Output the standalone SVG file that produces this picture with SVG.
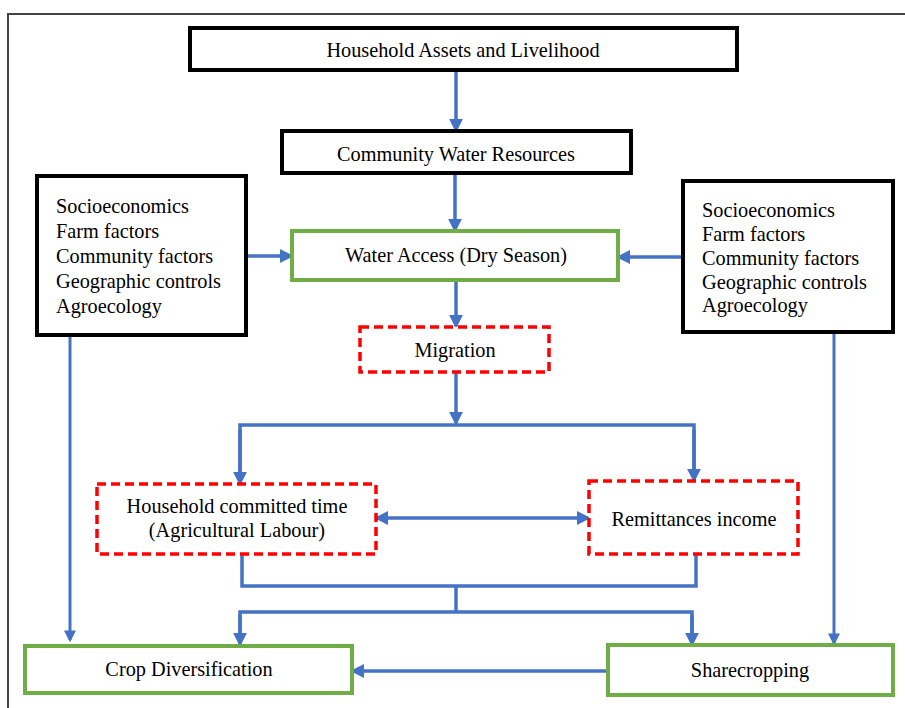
<svg xmlns="http://www.w3.org/2000/svg" width="905" height="708" viewBox="0 0 905 708">
<defs>
<marker id="ah" markerWidth="4" markerHeight="4" refX="3.2" refY="2" orient="auto" markerUnits="strokeWidth" viewBox="0 0 4 4"><path d="M0,0 L4,2 L0,4 Z" fill="#4472C4"/></marker>
<marker id="ahs" markerWidth="4" markerHeight="4" refX="0.8" refY="2" orient="auto" markerUnits="strokeWidth" viewBox="0 0 4 4"><path d="M4,0 L0,2 L4,4 Z" fill="#4472C4"/></marker>
</defs>
<style>
.blk{fill:#fff;stroke:#000;stroke-width:4}
.grn{fill:#fff;stroke:#70AD47;stroke-width:4}
.red{fill:#fff;stroke:#FF0000;stroke-width:3.5;stroke-dasharray:9,5}
text{font-family:"Liberation Serif","Times New Roman",serif;font-size:20.3px;fill:#000}
.c{text-anchor:middle}
.ln{fill:none;stroke:#4472C4;stroke-width:3.5}
.ar{marker-end:url(#ah)}
</style>
<rect width="905" height="708" fill="#fff"/>
<rect x="8" y="14" width="920" height="720" fill="none" stroke="#444" stroke-width="2"/>
<g id="connectors">
<path class="ln ar" d="M456,70 V130"/>
<path class="ln ar" d="M455,173 V230"/>
<path class="ln ar" d="M247,256 H291"/>
<path class="ln ar" d="M683,257 H619"/>
<path class="ln ar" d="M456,281 V326"/>
<path class="ln ar" d="M456,373 V423"/>
<path class="ln" d="M240,484 V425 H694 V481"/>
<path class="ln ar" d="M240,430 V483"/>
<path class="ln ar" d="M694,430 V480"/>
<path class="ln" d="M377,518 H588" style="marker-end:url(#ah);marker-start:url(#ahs)"/>
<path class="ln" d="M242,555 V586 H696 V555"/>
<path class="ln" d="M456,586 V612"/>
<path class="ln" d="M240,640 V612 H692 V640"/>
<path class="ln ar" d="M240,615 V644"/>
<path class="ln ar" d="M692,615 V644"/>
<path class="ln ar" d="M70,337 V640" style="stroke-width:3"/>
<path class="ln ar" d="M834,334 V643" style="stroke-width:3"/>
<path class="ln ar" d="M608,671 H353"/>
</g>
<g id="assets"><rect class="blk" x="190" y="28" width="547" height="42"/><text class="c" x="463" y="57">Household Assets and Livelihood</text></g>
<g id="community"><rect class="blk" x="282" y="131" width="349" height="42"/><text class="c" x="456" y="161">Community Water Resources</text></g>
<g id="leftfactors"><rect class="blk" x="37" y="176" width="209" height="159"/>
<text x="56" y="213">Socioeconomics</text><text x="56" y="238">Farm factors</text><text x="56" y="263">Community factors</text><text x="56" y="288">Geographic controls</text><text x="56" y="313">Agroecology</text></g>
<g id="rightfactors"><rect class="blk" x="683" y="181" width="210" height="151"/>
<text x="702" y="217">Socioeconomics</text><text x="702" y="241">Farm factors</text><text x="702" y="265">Community factors</text><text x="702" y="289">Geographic controls</text><text x="702" y="312">Agroecology</text></g>
<g id="water"><rect class="grn" x="292" y="231" width="326" height="49"/><text class="c" x="456" y="262">Water Access (Dry Season)</text></g>
<g id="migration"><rect class="red" x="360" y="327" width="189" height="45"/><text class="c" x="455" y="357">Migration</text></g>
<g id="labour"><rect class="red" x="97" y="484" width="279" height="70"/><text class="c" x="237" y="513">Household committed time</text><text class="c" x="237" y="537">(Agricultural Labour)</text></g>
<g id="remit"><rect class="red" x="589" y="481" width="209" height="73"/><text class="c" x="694" y="526">Remittances income</text></g>
<g id="crop"><rect class="grn" x="25" y="646" width="327" height="47"/><text class="c" x="189" y="676">Crop Diversification</text></g>
<g id="share"><rect class="grn" x="608" y="645" width="285" height="50"/><text class="c" x="750" y="677">Sharecropping</text></g>
</svg>
